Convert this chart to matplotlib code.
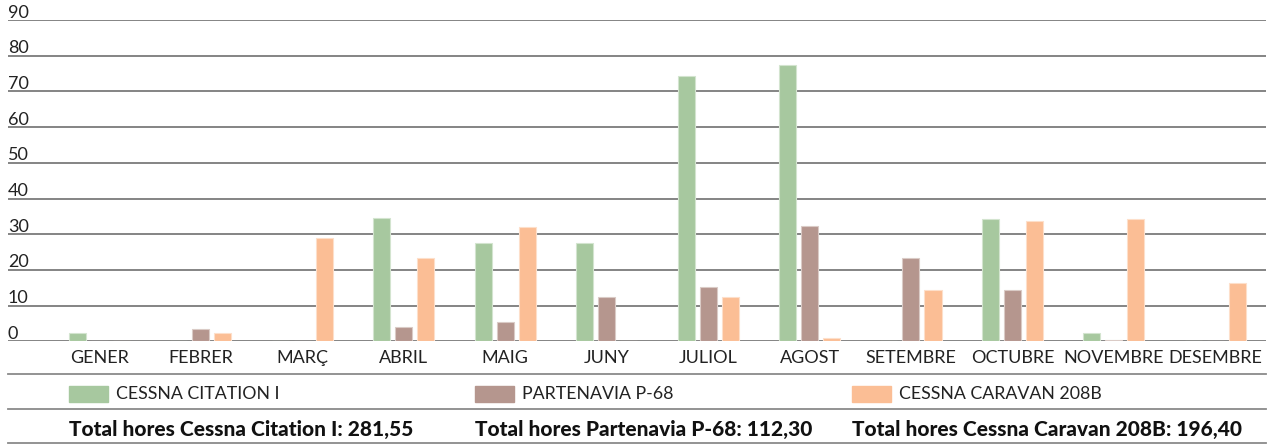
import numpy as np
import matplotlib.pyplot as plt
from matplotlib.patches import Rectangle
from matplotlib.lines import Line2D

plt.rcParams['font.family'] = ['Lato', 'DejaVu Sans']

months = ["GENER", "FEBRER", "MARÇ", "ABRIL", "MAIG", "JUNY",
          "JULIOL", "AGOST", "SETEMBRE", "OCTUBRE", "NOVEMBRE", "DESEMBRE"]
series = ["CESSNA CITATION I", "PARTENAVIA P-68", "CESSNA CARAVAN 208B"]
citation = [2.3, 0, 0, 34.6, 27.5, 27.6, 74.2, 77.3, 0, 34.3, 2.3, 0]
partenavia = [0, 3.4, 0, 3.9, 5.3, 12.3, 15.3, 32.4, 23.4, 14.4, 0.3, 0]
caravan = [0, 2.4, 29.0, 23.4, 32.1, 0, 12.4, 0.9, 14.4, 33.6, 34.3, 16.4]
totals = ["Total hores Cessna Citation I: 281,55",
          "Total hores Partenavia P-68: 112,30",
          "Total hores Cessna Caravan 208B: 196,40"]
yticks = [0, 10, 20, 30, 40, 50, 60, 70, 80, 90]

colors = ["#A7C89F", "#B5968E", "#FBBE95"]
edges = ["#D3E4CF", "#DACBC6", "#FDDFCA"]

W, H = 1271, 445
fig = plt.figure(figsize=(W / 100, H / 100), dpi=100)

def fx(px):
    return px / W

def fy(py):
    return 1 - py / H

# axes: y=0 at pixel 341.3, y=90 at pixel 20
ax = fig.add_axes([fx(8), fy(341.3), fx(1266) - fx(8), fy(20) - fy(341.3)])
ax.set_ylim(0, 90)
ax.set_xlim(-0.902, 11.5)
ax.set_axis_off()

for v in yticks:
    ax.axhline(v, color="#6f6f6f", lw=1.2, zorder=1)
    ax.text(0.0, v + 0.7, str(v), transform=ax.get_yaxis_transform(),
            ha="left", va="baseline", fontsize=13, color="#222222")

x = np.arange(len(months))
step = 0.217
bw = 0.168
for k, vals in enumerate([citation, partenavia, caravan]):
    ax.bar(x + (k - 1) * step, vals, width=bw, color=colors[k],
           edgecolor=edges[k], linewidth=0.8, zorder=2)

for i, m in enumerate(months):
    ax.text(i, -4.75, m, ha="center", va="center", fontsize=13,
            color="#222222", clip_on=False)

# separator lines under the chart
for py in [374, 409, 443]:
    fig.add_artist(Line2D([fx(8), fx(1266)], [fy(py), fy(py)],
                          transform=fig.transFigure, color="#8a8a8a", lw=1.3))

# legend row
leg_x = [69, 475, 852]
for k, name in enumerate(series):
    fig.add_artist(Rectangle((fx(leg_x[k]), fy(402)), fx(39), 16 / H,
                             transform=fig.transFigure, color=colors[k]))
    fig.text(fx(leg_x[k] + 47), fy(394), name, ha="left", va="center",
             fontsize=12.8, color="#222222")

# totals row
for k, t in enumerate(totals):
    fig.text(fx(leg_x[k]), fy(429), t, ha="left", va="center",
             fontsize=15, fontweight="black", color="#111111")

fig.savefig("out.png", dpi=100)
